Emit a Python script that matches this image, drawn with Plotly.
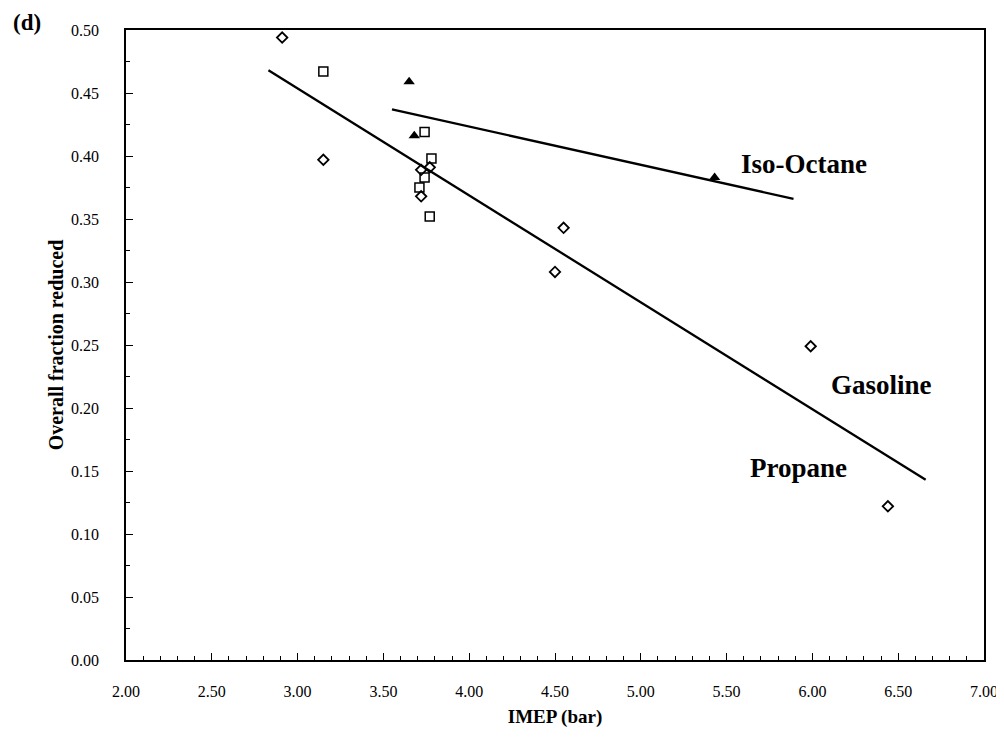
import plotly.graph_objects as go

# Data
propane_x = [2.91, 3.15, 3.72, 3.72, 3.77, 4.50, 4.55, 5.99, 6.44]
propane_y = [0.494, 0.397, 0.389, 0.368, 0.391, 0.308, 0.343, 0.249, 0.122]

gasoline_x = [3.15, 3.74, 3.78, 3.74, 3.71, 3.77]
gasoline_y = [0.467, 0.419, 0.398, 0.383, 0.375, 0.352]

isooctane_x = [3.65, 3.68, 5.43]
isooctane_y = [0.459, 0.416, 0.383]

fit_pg_x = [2.83, 6.66]
fit_pg_y = [0.468, 0.143]

fit_iso_x = [3.55, 5.89]
fit_iso_y = [0.437, 0.366]

serif = "Liberation Serif, Times New Roman, serif"

fig = go.Figure()
fig.add_trace(go.Scatter(x=fit_pg_x, y=fit_pg_y, mode="lines",
                         line=dict(color="black", width=2.3), showlegend=False))
fig.add_trace(go.Scatter(x=fit_iso_x, y=fit_iso_y, mode="lines",
                         line=dict(color="black", width=2.3), showlegend=False))
fig.add_trace(go.Scatter(x=propane_x, y=propane_y, mode="markers",
                         marker=dict(symbol="diamond-open", size=8, color="black",
                                     line=dict(width=1.8)), showlegend=False))
fig.add_trace(go.Scatter(x=gasoline_x, y=gasoline_y, mode="markers",
                         marker=dict(symbol="square-open", size=9, color="black",
                                     line=dict(width=1.5)), showlegend=False))
fig.add_trace(go.Scatter(x=isooctane_x, y=isooctane_y, mode="markers",
                         marker=dict(symbol="triangle-up", size=10, color="black"),
                         showlegend=False))

labels = [("Iso-Octane", 5.95, 0.394), ("Gasoline", 6.40, 0.218), ("Propane", 5.92, 0.152)]
for t, x, y in labels:
    fig.add_annotation(x=x, y=y, text=t, showarrow=False,
                       font=dict(family=serif, size=27, color="black", weight="bold"))

fig.add_annotation(text="(d)", xref="paper", yref="paper", x=-0.134, y=1.012,
                   xanchor="left", yanchor="middle", showarrow=False,
                   font=dict(family=serif, size=23, color="black", weight="bold"))

axis_common = dict(showline=True, linecolor="black", linewidth=1.5, mirror=True,
                   ticks="inside", ticklen=7, tickcolor="black", tickwidth=1,
                   showgrid=False, zeroline=False, tickformat=".2f",
                   tickfont=dict(family=serif, size=16, color="black"))

fig.update_xaxes(range=[2, 7], dtick=0.5, tick0=2, ticklabelstandoff=16,
                 minor=dict(dtick=0.1, ticks="inside", ticklen=4, tickcolor="black"),
                 title=dict(text="IMEP (bar)", font=dict(family=serif, size=19, color="black", weight="bold"),
                            standoff=11),
                 **axis_common)
fig.update_yaxes(range=[0, 0.5], dtick=0.05, tick0=0, ticklabelstandoff=22,
                 minor=dict(dtick=0.025, ticks="inside", ticklen=4, tickcolor="black"),
                 title=dict(text="Overall fraction reduced", font=dict(family=serif, size=20, color="black", weight="bold"),
                            standoff=2),
                 **axis_common)

fig.update_layout(width=1004, height=742, plot_bgcolor="white", paper_bgcolor="white",
                  margin=dict(l=118, r=28, t=22, b=90), showlegend=False)

fig.write_html("out.html")
